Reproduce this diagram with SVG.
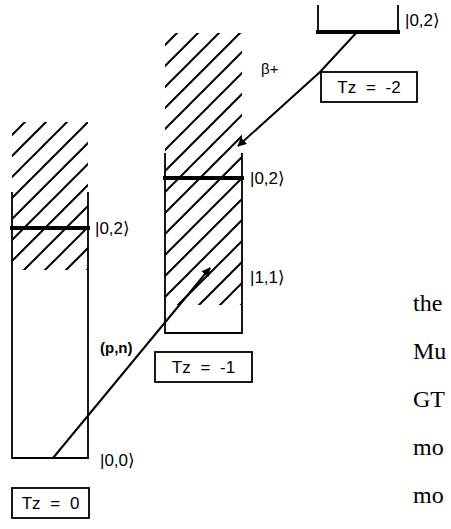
<svg xmlns="http://www.w3.org/2000/svg" width="451" height="529" viewBox="0 0 451 529">
<style>
.frame{fill:none;stroke:#000;stroke-width:1.8}
.level{stroke:#000;stroke-width:4;stroke-linecap:butt}
.ket{font-family:"Liberation Sans","DejaVu Sans",sans-serif;font-size:17px;fill:#000}
.tz{font-family:"Liberation Sans","DejaVu Sans",sans-serif;font-size:17px;fill:#000;word-spacing:5px}
.lbl{font-family:"Liberation Sans","DejaVu Sans",sans-serif;font-size:15px;fill:#000}
.body{font-family:"Liberation Serif","Times New Roman",serif;font-size:24px;fill:#000}
.conn{fill:none;stroke:#000;stroke-width:2}
</style>
<defs>
<pattern id="hatch" patternUnits="userSpaceOnUse" width="21" height="21">
<path d="M-2,2 l4,-4 M0,21 l21,-21 M19,23 l4,-4" stroke="#000" stroke-width="2"/>
</pattern>
<marker id="arr" viewBox="0 0 10 10" refX="9" refY="5" markerWidth="4.5" markerHeight="4.5" orient="auto" markerUnits="strokeWidth">
<path d="M0,0 L10,5 L0,10 z" fill="#000"/>
</marker>
</defs>

<g id="tz0">
<rect x="12" y="122" width="76" height="148" fill="url(#hatch)"/>
<path class="frame" d="M12,192 V458 H88 V192"/>
<line class="level" x1="10" y1="228" x2="90" y2="228"/>
<text class="ket" x="95" y="234">|0,2⟩</text>
<text class="ket" x="100" y="466">|0,0⟩</text>
<rect class="frame" x="12" y="488" width="77" height="30"/>
<text class="tz" x="50.5" y="509" text-anchor="middle">Tz = 0</text>
</g>

<g id="tz-1">
<rect x="165" y="33" width="77" height="272" fill="url(#hatch)"/>
<path class="frame" d="M165,153 V333 H242 V153"/>
<line class="level" x1="163" y1="178" x2="244" y2="178"/>
<text class="ket" x="250" y="184">|0,2⟩</text>
<text class="ket" x="250" y="283">|1,1⟩</text>
<rect class="frame" x="155" y="352" width="97" height="30"/>
<text class="tz" x="203.5" y="373" text-anchor="middle">Tz = -1</text>
</g>

<g id="tz-2">
<path class="frame" d="M318,5 V32 M398,5 V32"/>
<line class="level" x1="316" y1="32" x2="400" y2="32"/>
<text class="ket" x="405" y="26">|0,2⟩</text>
<rect class="frame" x="321" y="72" width="96" height="30"/>
<text class="tz" x="369" y="93" text-anchor="middle">Tz = -2</text>
</g>

<g id="connectors">
<line class="conn" x1="53" y1="458" x2="210" y2="268" marker-end="url(#arr)"/>
<polyline class="conn" points="357,32 320,72 238,146" marker-end="url(#arr)"/>
<text class="lbl" x="100" y="353" font-weight="bold">(p,n)</text>
<text class="lbl" x="261" y="74">β+</text>
</g>

<g id="text">
<text class="body" x="413" y="311">the</text>
<text class="body" x="413" y="359">Mu</text>
<text class="body" x="413" y="407">GT</text>
<text class="body" x="413" y="455">mo</text>
<text class="body" x="413" y="503">mo</text>
</g>
</svg>
